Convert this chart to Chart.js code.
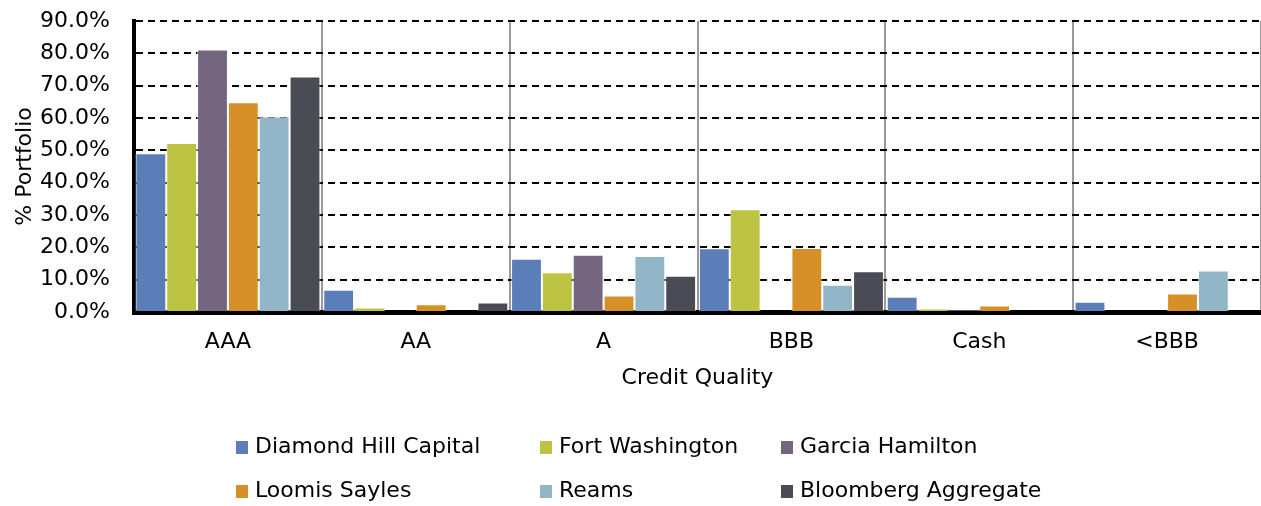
<!DOCTYPE html>
<html>
<head>
<meta charset="utf-8">
<script src="https://cdn.jsdelivr.net/npm/chart.js@4"></script>
<style>
  body { margin: 0; background: #fff; }
  #wrap { position: relative; width: 1261px; height: 506px; }
  #legend { position: absolute; left: 0; top: 0; width: 1261px; height: 506px; pointer-events: none;
            font-family: "DejaVu Sans", sans-serif; font-size: 22px; color: #000; }
  .item { position: absolute; white-space: nowrap; line-height: 24px; }
  .box { display: inline-block; width: 12px; height: 13px; margin-right: 7px; vertical-align: -1px; }
</style>
</head>
<body>
<div id="wrap">
  <canvas id="myChart" width="1261" height="506"></canvas>
  <div id="legend"></div>
</div>
<script>
// credit quality buckets on the x axis
const categories = ['AAA', 'AA', 'A', 'BBB', 'Cash', '<BBB'];

// % of portfolio per manager
const diamondHill = [49.1, 6.9, 16.5, 19.7, 4.7, 3.2];
const fortWashington = [52.3, 1.4, 12.3, 31.8, 1.1, 0];
const garciaHamilton = [81.2, 0, 17.7, 0, 0.7, 0];
const loomisSayles = [64.9, 2.4, 5.1, 19.8, 2.0, 5.7];
const reams = [60.5, 0, 17.3, 8.4, 0, 12.8];
const bloombergAgg = [72.8, 2.9, 11.2, 12.6, 0, 0];

const seriesNames = ['Diamond Hill Capital', 'Fort Washington', 'Garcia Hamilton',
                     'Loomis Sayles', 'Reams', 'Bloomberg Aggregate'];
const seriesColors = ['#5b7db8', '#bdc444', '#74667f', '#d79027', '#93b5c8', '#494c55'];
const seriesData = [diamondHill, fortWashington, garciaHamilton, loomisSayles, reams, bloombergAgg];

const fontFam = '"DejaVu Sans", sans-serif';

let datasets = seriesData.map((d, i) => ({
    label: seriesNames[i],
    data: d,
    backgroundColor: seriesColors[i],
    borderColor: 'rgba(255,255,255,0.55)',
    borderWidth: 1,
    borderSkipped: 'start',
    categoryPercentage: 0.985,
    barPercentage: 1
}));

new Chart(document.getElementById('myChart'), {
    type: 'bar',
    data: { labels: categories, datasets: datasets },
    options: {
        responsive: false,
        animation: false,
        layout: { padding: { top: 21, right: 0, left: 0, bottom: 111 } },
        plugins: {
            legend: { display: false },
            tooltip: { enabled: false }
        },
        scales: {
            x: {
                grid: { color: '#9a9a9a', lineWidth: 2, drawTicks: false, offset: true },
                border: { color: '#000', width: 5 },
                ticks: { color: '#000', font: { family: fontFam, size: 22 }, padding: 17 },
                title: { display: true, text: 'Credit Quality', color: '#000',
                         font: { family: fontFam, size: 22 }, padding: { top: 14 } },
                afterFit: (s) => { s.height = 83; }
            },
            y: {
                min: 0,
                max: 90,
                ticks: { stepSize: 10, color: '#000', font: { family: fontFam, size: 22 }, padding: 24,
                         callback: (v) => v.toFixed(1) + '%' },
                grid: { color: '#000', lineWidth: 2, drawTicks: false },
                border: { color: '#000', width: 4, dash: [7, 5] },
                title: { display: true, text: '% Portfolio', color: '#000',
                         font: { family: fontFam, size: 22 }, padding: { top: 12, bottom: 0 } },
                // fixed width, and no extra top/bottom room from the tick padding
                afterFit: (s) => { s.width = 134; s.paddingTop = 0; s.paddingBottom = 0; }
            }
        }
    }
});

// legend laid out in three columns like the original
const legendPos = [[236, 434], [540, 434], [781, 434], [236, 478], [540, 478], [781, 478]];
let legendDiv = document.getElementById('legend');
seriesNames.forEach((name, i) => {
    let el = document.createElement('div');
    el.className = 'item';
    el.style.left = legendPos[i][0] + 'px';
    el.style.top = legendPos[i][1] + 'px';
    el.innerHTML = '<span class="box" style="background:' + seriesColors[i] + '"></span>' + name;
    legendDiv.appendChild(el);
});
</script>
</body>
</html>
